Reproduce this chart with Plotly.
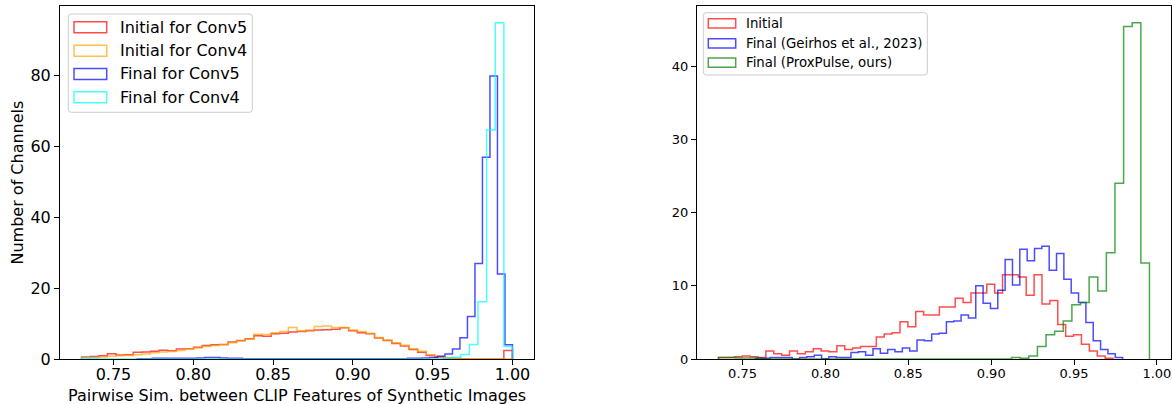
import plotly.graph_objects as go

W, H = 1172, 404

# ---------------- Left panel data (per-series histogram bins) ----------------
left_init_start = 0.730
left_init_width = 0.0054
init_conv5 = [0.6, 0.7, 0.9, 1.5, 1.1, 1.2, 1.9, 2.0, 2.2, 2.5, 2.3, 2.8, 2.9, 3.3, 3.8, 4.0,
              4.1, 4.8, 5.2, 5.7, 6.6, 6.4, 7.1, 7.3, 7.6, 7.8, 8.0, 8.2, 8.3, 8.4, 8.8, 8.0,
              7.4, 7.1, 5.9, 5.2, 4.4, 3.7, 2.7, 1.9, 1.0, 0.6, 0.2, 0.1, 0.05, 0, 0, 0, 0, 2.4]
init_conv4 = [0.3, 0.4, 0.6, 0.8, 0.9, 1.0, 1.2, 1.4, 1.8, 2.0, 2.1, 2.4, 2.8, 3.1, 3.5, 3.8,
              4.0, 4.6, 5.1, 5.6, 7.0, 6.9, 7.4, 7.8, 8.9, 8.0, 8.2, 9.2, 9.3, 8.9, 8.9, 8.2,
              7.8, 7.3, 6.1, 5.4, 4.6, 3.9, 2.9, 2.2, 1.2, 0.7, 0.4, 0.2, 0.1, 0.1, 0.1, 0.1, 0.1, 0.1]
final_conv5_start = 0.765
final_conv5_width = 0.0047
final_conv5 = [0.1, 0.1, 0.2, 0.2, 0.2, 0.2, 0.2, 0.2, 0.3, 0.4, 0.4, 0.3, 0.2, 0.2, 0.1, 0.1,
               0.1, 0.1, 0.1, 0.1, 0.1, 0.1, 0.1, 0.1, 0.1, 0.1, 0.1, 0.1, 0.1, 0.1, 0.1, 0.1,
               0.1, 0.1, 0.1, 0.1, 0.2, 0.2, 0.3, 0.4, 0.8, 1.4, 2.8, 6.0, 12.0, 27.0, 57.0, 80.0,
               24.0, 4.0]
final_conv4_start = 0.730
final_conv4_width = 0.0054
final_conv4 = [0.3, 0.2] + [0] * 39 + [0.1, 0.2, 0.5, 1.3, 4.1, 16.2, 64.7, 95.0, 3.5]

left_labels = ["Initial for Conv5", "Initial for Conv4", "Final for Conv5", "Final for Conv4"]
left_xticks = [0.75, 0.80, 0.85, 0.90, 0.95, 1.00]
left_yticks = [0, 20, 40, 60, 80]

# ---------------- Right panel data ----------------
r_initial_start = 0.7355
r_initial_width = 0.00476
r_initial = [0.2, 0.2, 0.3, 0.4, 0.3, 0.2, 1.1, 0.7, 0.5, 1.1, 0.7, 1.0, 1.4, 1.1, 1.0, 1.8,
             1.3, 1.5, 1.7, 1.7, 3.0, 3.4, 3.6, 5.1, 4.4, 6.5, 6.0, 6.0, 7.1, 7.1, 8.3, 7.7,
             9.0, 9.0, 10.2, 9.0, 11.5, 11.5, 11.2, 8.7, 11.5, 7.5, 8.0, 4.7, 3.1, 3.3, 2.0,
             1.1, 0.4, 0.1]
r_geirhos_start = 0.7578
r_geirhos_width = 0.00443
r_geirhos = [0.1, 0.1, 0.2, 0.2, 0.2, 0.0, 0.2, 0.3, 0.5, 0.05, 0.3, 0.2, 0.2, 0.9, 1.0, 0.5,
             1.4, 0.8, 1.3, 1.0, 1.5, 1.1, 2.6, 2.5, 3.4, 3.5, 5.1, 5.2, 6.0, 5.6, 10.0, 7.6,
             6.9, 9.4, 13.6, 10.1, 15.0, 13.4, 15.1, 15.4, 12.1, 14.4, 10.9, 9.0, 7.7, 5.0,
             2.5, 1.3, 0.7, 0.2]
r_prox_start = 0.7355
r_prox_width = 0.0052
r_prox = [0.2, 0.2, 0.15, 0.15, 0.15, 0.05] + [0] * 28 + [0.2, 0.1, 0.4, 1.7, 3.3, 3.8, 5.2, 7.4,
                                                       7.7, 11.2, 9.3, 14.5, 24.0, 45.4, 45.9, 13.1]
right_labels = ["Initial", "Final (Geirhos et al., 2023)", "Final (ProxPulse, ours)"]
right_xticks = [0.75, 0.80, 0.85, 0.90, 0.95, 1.00]
right_yticks = [0, 10, 20, 30, 40]

# ---------------- Styles ----------------
C_RED = "rgba(255,0,0,0.7)"
C_ORANGE = "rgba(255,165,0,0.7)"
C_BLUE = "rgba(0,0,255,0.7)"
C_CYAN = "rgba(0,255,255,0.7)"
C_GREEN = "rgba(0,128,0,0.7)"
FONT = "DejaVu Sans"


def px(x):
    return x / W


def py(y):
    return 1 - y / H


def step_xy(start, width, counts):
    n = len(counts)
    edges = [start + i * width for i in range(n + 1)]
    xs = [edges[0]] + edges[:n] + [edges[n]]
    ys = [0] + list(counts) + [0]
    return xs, ys


fig = go.Figure()

left_series = [(left_init_start, left_init_width, init_conv5, C_RED),
               (left_init_start, left_init_width, init_conv4, C_ORANGE),
               (final_conv5_start, final_conv5_width, final_conv5, C_BLUE),
               (final_conv4_start, final_conv4_width, final_conv4, C_CYAN)]
for (s, w, c, col), name in zip(left_series, left_labels):
    xs, ys = step_xy(s, w, c)
    fig.add_trace(go.Scatter(x=xs, y=ys, mode="lines", line=dict(color=col, width=1.5, shape="hv"),
                             name=name, xaxis="x", yaxis="y", showlegend=False))

right_series = [(r_initial_start, r_initial_width, r_initial, C_RED),
                (r_geirhos_start, r_geirhos_width, r_geirhos, C_BLUE),
                (r_prox_start, r_prox_width, r_prox, C_GREEN)]
for (s, w, c, col), name in zip(right_series, right_labels):
    xs, ys = step_xy(s, w, c)
    fig.add_trace(go.Scatter(x=xs, y=ys, mode="lines", line=dict(color=col, width=1.5, shape="hv"),
                             name=name, xaxis="x2", yaxis="y2", showlegend=False))

# data extents with 5% margins (matplotlib style)
lmin = min(left_init_start, final_conv5_start, final_conv4_start)
lmax = 1.0
lpad = 0.05 * (lmax - lmin)
lymax = max(max(init_conv5), max(init_conv4), max(final_conv5), max(final_conv4)) * 1.05
rmin = min(r_initial_start, r_geirhos_start, r_prox_start)
rmax = max(r_initial_start + r_initial_width * len(r_initial),
           r_geirhos_start + r_geirhos_width * len(r_geirhos),
           r_prox_start + r_prox_width * len(r_prox))
rpad = 0.05 * (rmax - rmin)
rymax = max(max(r_initial), max(r_geirhos), max(r_prox)) * 1.05

axis_common = dict(showline=True, mirror=True, linecolor="black", linewidth=1, ticks="outside",
                   ticklen=5, tickwidth=1, tickcolor="black", showgrid=False, zeroline=False,
                   automargin=False)

fig.update_layout(
    width=W, height=H, autosize=False,
    margin=dict(l=0, r=0, t=0, b=0, pad=0),
    paper_bgcolor="white", plot_bgcolor="white",
    font=dict(family=FONT, color="black"),
    showlegend=False,
    xaxis=dict(domain=[px(60), px(534)], range=[lmin - lpad, lmax + lpad], anchor="y",
               tickvals=left_xticks, ticktext=[f"{v:.2f}" for v in left_xticks],
               tickfont=dict(size=16), ticklabelstandoff=-4, **axis_common),
    yaxis=dict(domain=[py(359), py(6)], range=[0, lymax], anchor="x",
               tickvals=left_yticks, tickfont=dict(size=16), **axis_common),
    xaxis2=dict(domain=[px(697), px(1171)], range=[rmin - rpad, rmax + rpad], anchor="y2",
                tickvals=right_xticks, ticktext=[f"{v:.2f}" for v in right_xticks],
                tickfont=dict(size=13), ticklabelstandoff=-3, **axis_common),
    yaxis2=dict(domain=[py(359), py(6)], range=[0, rymax], anchor="x2",
                tickvals=right_yticks, tickfont=dict(size=13), **axis_common),
)

annotations = [
    dict(text="Pairwise Sim. between CLIP Features of Synthetic Images", x=px(297), y=py(395),
         xref="paper", yref="paper", showarrow=False, font=dict(size=16), xanchor="center",
         yanchor="middle"),
    dict(text="Number of Channels", x=px(17), y=py(182.5), xref="paper", yref="paper",
         showarrow=False, font=dict(size=16), textangle=-90, xanchor="center", yanchor="middle"),
]
shapes = []


def rounded_path(x0, y0, x1, y1, r):
    # pixel box -> paper-coordinate path with rounded corners
    def P(x, y):
        return f"{px(x):.6f},{py(y):.6f}"
    return (f"M {P(x0 + r, y0)} L {P(x1 - r, y0)} Q {P(x1, y0)} {P(x1, y0 + r)} "
            f"L {P(x1, y1 - r)} Q {P(x1, y1)} {P(x1 - r, y1)} L {P(x0 + r, y1)} "
            f"Q {P(x0, y1)} {P(x0, y1 - r)} L {P(x0, y0 + r)} Q {P(x0, y0)} {P(x0 + r, y0)} Z")


def add_legend(frame, patch_x, patch_h, centers, text_x, labels, colors, fsize):
    x0, y0, x1, y1 = frame
    shapes.append(dict(type="path", xref="paper", yref="paper",
                       path=rounded_path(x0, y0, x1, y1, 3),
                       line=dict(color="#cccccc", width=1),
                       fillcolor="rgba(255,255,255,0.8)", layer="above"))
    for cy, lab, col in zip(centers, labels, colors):
        shapes.append(dict(type="rect", xref="paper", yref="paper", x0=px(patch_x[0]),
                           x1=px(patch_x[1]), y0=py(cy + patch_h / 2), y1=py(cy - patch_h / 2),
                           line=dict(color=col, width=1.5), fillcolor="rgba(0,0,0,0)",
                           layer="above"))
        annotations.append(dict(text=lab, x=px(text_x), y=py(cy), xref="paper", yref="paper",
                                showarrow=False, xanchor="left", yanchor="middle",
                                font=dict(size=fsize)))


add_legend((68.3, 14, 252.3, 112.3), (74, 106.7), 11, [27.3, 50.7, 74, 97.3], 118,
           left_labels, [C_RED, C_ORANGE, C_BLUE, C_CYAN], 16)
add_legend((703.3, 12.7, 927.3, 75), (708.3, 735.7), 9.3, [23.3, 43.3, 62.7], 744,
           right_labels, [C_RED, C_BLUE, C_GREEN], 13.3)

fig.update_layout(annotations=annotations, shapes=shapes)
fig.write_html("out.html")
